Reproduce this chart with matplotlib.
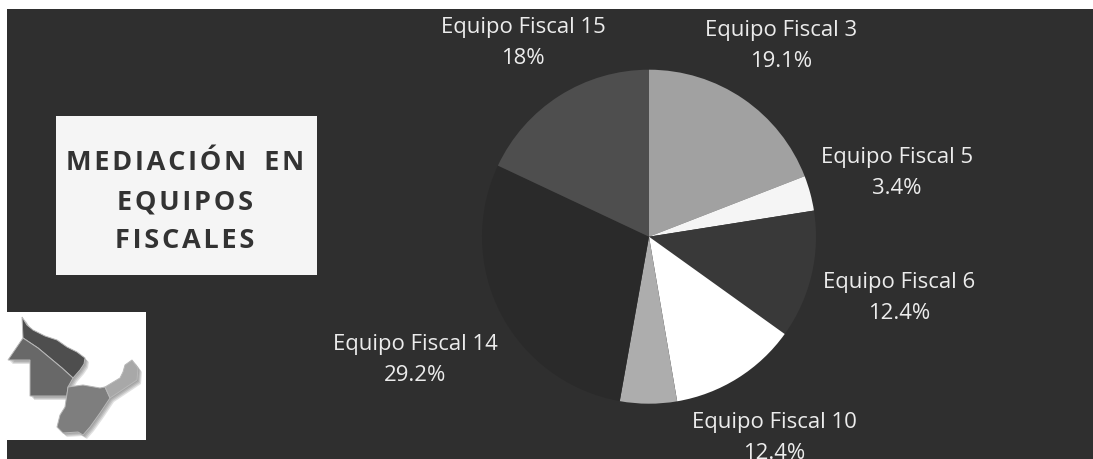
import matplotlib
matplotlib.use('Agg')
from matplotlib import pyplot as plt
from matplotlib.patches import Polygon, Rectangle

W, H = 1093, 459

# slices, clockwise from the top
equipos = ['Equipo Fiscal 3', 'Equipo Fiscal 5', 'Equipo Fiscal 6',
           'Equipo Fiscal 10', '', 'Equipo Fiscal 14', 'Equipo Fiscal 15']
valores = [19.1, 3.4, 12.4, 12.4, 5.5, 29.2, 18]
etiquetas = ['19.1%', '3.4%', '12.4%', '12.4%', '', '29.2%', '18%']
colores = ['#a1a1a1', '#f5f5f5', '#393939', '#ffffff', '#adadad', '#2a2a2a', '#4e4e4e']

# label centres in pixels
pos_etiquetas = [(781, 46), (897, 173), (899, 298), (774, 438), None, (415, 360), (523, 43)]

FONDO = '#2f2f2f'
FUENTE = ['Open Sans', 'DejaVu Sans']

fig = plt.figure(figsize=(W / 100, H / 100), dpi=100, facecolor='white')

# page axes in pixel coords, y pointing down
page = fig.add_axes([0, 0, 1, 1])
page.set_xlim(0, W)
page.set_ylim(H, 0)
page.axis('off')
page.add_patch(Rectangle((7, 9), W - 7, H - 9, fc=FONDO, ec='none', zorder=0))

# pie
cx, cy, r = 649, 236.7, 167
ax = fig.add_axes([(cx - r) / W, 1 - (cy + r) / H, 2 * r / W, 2 * r / H])
ax.pie(valores, colors=colores, startangle=90, counterclock=False, radius=1,
       wedgeprops={'linewidth': 0})
ax.set_xlim(-1, 1)
ax.set_ylim(-1, 1)

for equipo, etiqueta, pos in zip(equipos, etiquetas, pos_etiquetas):
    if pos is None:
        continue
    page.text(pos[0], pos[1], equipo + '\n' + etiqueta, color='#ececec', ha='center',
              va='center', fontsize=15.9, family=FUENTE, linespacing=1.64, zorder=5)

# title box
page.add_patch(Rectangle((56, 116), 261, 159, fc='#f5f5f5', ec='none', zorder=2))
titulo = ['MEDIACIÓN EN', 'EQUIPOS', 'FISCALES']
for linea, y in zip(titulo, [170, 209, 248]):
    texto = '\u200a'.join(linea).replace(' ', '\u200a \u200a')
    page.text(185, y, texto, color='#333333', ha='center', va='baseline',
              fontsize=19.5, fontweight='bold', family=FUENTE, zorder=3)

# map logo
page.add_patch(Rectangle((7, 312), 139, 127.5, fc='white', ec='none', zorder=2))
formosa = [(22, 317), (27, 325), (33, 330), (45, 336), (57, 340), (67, 347), (77, 352),
           (85, 358), (84, 364), (80, 370), (73, 378), (62, 368), (50, 358), (38, 348),
           (23, 338)]
chaco = [(23, 338), (38, 348), (50, 358), (62, 368), (73, 378), (68, 387), (67, 396),
         (30, 396), (30, 360), (8, 360)]
corrientes = [(68, 387), (83, 385), (100, 388), (105, 387), (110, 398), (100, 413),
              (90, 427), (83, 435), (78, 432), (63, 433), (57, 427), (60, 415),
              (65, 407)]
misiones = [(105, 387), (120, 378), (123, 372), (125, 365), (132, 360), (138, 368),
            (137, 380), (125, 388), (110, 398)]
formas = [(formosa, '#4e4e4e'), (chaco, '#686868'),
          (corrientes, '#7e7e7e'), (misiones, '#a8a8a8')]

# soft drop shadow under the provinces
for desplazamiento in [1, 2, 3, 4]:
    for forma, color in formas:
        sombra = [(x + desplazamiento, y + desplazamiento) for x, y in forma]
        page.add_patch(Polygon(sombra, fc='#555555', ec='none', alpha=0.18, zorder=3))
for forma, color in formas:
    page.add_patch(Polygon(forma, fc=color, ec='#b8b8b8', lw=0.7, zorder=4))

fig.savefig('out.png', dpi=100, facecolor='white')
